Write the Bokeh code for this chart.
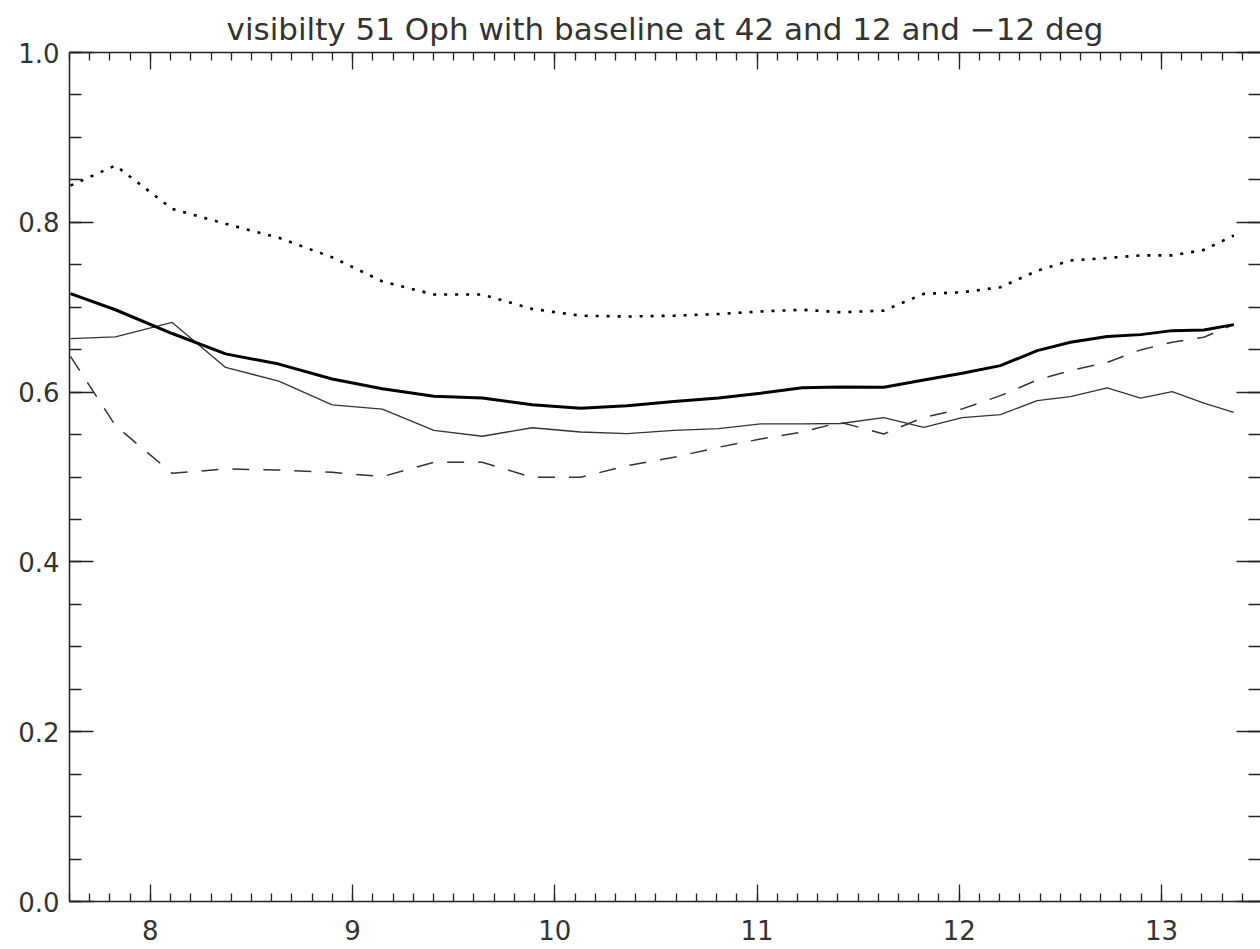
from bokeh.plotting import figure
from bokeh.models import (Range1d, LinearAxis, SingleIntervalTicker, PrintfTickFormatter,
                          CustomLabelingPolicy)
from bokeh.embed import file_html
from bokeh.resources import INLINE

# wavelength grid (micron)
wavelength = [7.605, 7.827, 8.108, 8.372, 8.635, 8.899, 9.147, 9.402, 9.641, 9.888,
              10.127, 10.358, 10.589, 10.81, 11.018, 11.224, 11.413, 11.627, 11.825, 12.015,
              12.204, 12.386, 12.550, 12.732, 12.897, 13.053, 13.21, 13.358]

# thick solid line
vis_thick = [0.716, 0.697, 0.669, 0.645, 0.633, 0.6155, 0.604, 0.595, 0.593, 0.585,
             0.581, 0.584, 0.589, 0.593, 0.5986, 0.605, 0.606, 0.6056, 0.6143, 0.6221,
             0.6312, 0.6489, 0.6587, 0.6654, 0.6677, 0.6724, 0.6732, 0.6795]

# thin solid line
vis_thin = [0.663, 0.665, 0.682, 0.629, 0.613, 0.585, 0.580, 0.555, 0.548, 0.558,
            0.553, 0.551, 0.555, 0.557, 0.5625, 0.5625, 0.563, 0.570, 0.5585, 0.570,
            0.5735, 0.590, 0.5947, 0.605, 0.593, 0.6005, 0.587, 0.576]

# dashed line
vis_dashed = [0.642, 0.5605, 0.5043, 0.5095, 0.5083, 0.5055, 0.5004, 0.5173, 0.5173, 0.4996,
              0.4996, 0.5134, 0.5232, 0.535, 0.5448, 0.553, 0.5644, 0.5507, 0.5703, 0.5802,
              0.5958, 0.6143, 0.6253, 0.635, 0.6497, 0.6587, 0.6646, 0.6795]

# dotted line
vis_dotted = [0.8433, 0.8669, 0.8158, 0.7982, 0.7817, 0.7588, 0.7305, 0.7149, 0.7149, 0.698,
              0.690, 0.689, 0.690, 0.692, 0.695, 0.697, 0.694, 0.696, 0.7157, 0.7176,
              0.7235, 0.743, 0.755, 0.758, 0.761, 0.761, 0.7675, 0.7844]

title_text = "visibilty 51 Oph with baseline at 42 and 12 and \u221212 deg"

FONT = "DejaVu Sans"
TXT = "#333333"
AX = "#222222"

p = figure(width=1260, height=949, output_backend="svg", toolbar_location=None,
           x_range=Range1d(7.6, 13.49), y_range=Range1d(0.0, 1.0),
           x_axis_location=None, y_axis_location=None,
           min_border_left=69, min_border_right=0, min_border_top=52, min_border_bottom=48)
p.grid.visible = False
p.outline_line_color = None
p.background_fill_color = "white"
p.border_fill_color = "white"

p.title.text = title_text
p.title.text_font = FONT
p.title.text_font_size = "31px"
p.title.text_font_style = "normal"
p.title.text_color = TXT
p.title.align = "center"
p.title.standoff = 12


def no_labels():
    return CustomLabelingPolicy(code="""
        for (const i of indices) {
            indices.unset(i)
        }
        return indices
    """)


def style(ax, tick_major, tick_minor, show_labels, standoff):
    ax.major_tick_in = tick_major
    ax.major_tick_out = 0
    ax.minor_tick_in = tick_minor
    ax.minor_tick_out = 0
    ax.axis_line_width = 1.5
    ax.major_tick_line_width = 1.3
    ax.minor_tick_line_width = 1.3
    ax.axis_line_color = AX
    ax.major_tick_line_color = AX
    ax.minor_tick_line_color = AX
    ax.major_label_text_font = FONT
    ax.major_label_text_color = TXT
    if show_labels:
        ax.major_label_text_font_size = "26px"
        ax.major_label_standoff = standoff
    else:
        # frame-edge ticks only: no labels drawn on this side
        ax.major_label_text_font_size = "0px"
        ax.major_label_policy = no_labels()
        ax.major_label_standoff = 0
    return ax


def xaxis(show_labels):
    ax = LinearAxis(ticker=SingleIntervalTicker(interval=1, num_minor_ticks=10))
    return style(ax, 17, 8, show_labels, 18)


def yaxis(show_labels):
    ax = LinearAxis(ticker=SingleIntervalTicker(interval=0.2, num_minor_ticks=4),
                    formatter=PrintfTickFormatter(format="%.1f"))
    return style(ax, 24, 12, show_labels, 10)


p.add_layout(xaxis(True), "below")
p.add_layout(xaxis(False), "above")
p.add_layout(yaxis(True), "left")
right_axis = yaxis(False)
right_axis.axis_line_color = None
p.add_layout(right_axis, "right")

p.line(wavelength, vis_dotted, line_width=2.6, line_color="black", line_dash="3 8")
p.line(wavelength, vis_dashed, line_width=1.5, line_color="#333333", line_dash="17 14")
p.line(wavelength, vis_thin, line_width=1.3, line_color="#333333")
p.line(wavelength, vis_thick, line_width=3, line_color="black")

open("out.html", "w").write(file_html(p, INLINE))
